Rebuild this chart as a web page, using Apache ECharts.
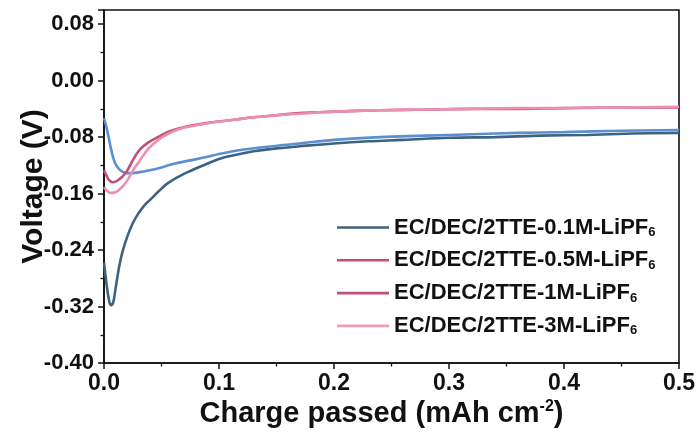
<!DOCTYPE html>
<html>
<head>
<meta charset="utf-8">
<script src="https://cdn.jsdelivr.net/npm/echarts@6/dist/echarts.min.js"></script>
<style>
  html, body { margin: 0; padding: 0; background: #ffffff; }
  #chart { width: 700px; height: 436px; }
</style>
</head>
<body>
<div id="chart"></div>
<script>
// Series names (the "6" subscript is added by the legend formatter)
const seriesNames = [
  'EC/DEC/2TTE-0.1M-LiPF6',
  'EC/DEC/2TTE-0.5M-LiPF6',
  'EC/DEC/2TTE-1M-LiPF6',
  'EC/DEC/2TTE-3M-LiPF6'
];

// 0.1M
const x01 = [0, 0.002, 0.004, 0.006, 0.008, 0.010, 0.013, 0.016, 0.020, 0.025, 0.030, 0.035, 0.040, 0.048, 0.055, 0.065, 0.075, 0.085, 0.10, 0.115, 0.13, 0.15, 0.17, 0.20, 0.23, 0.26, 0.30, 0.34, 0.38, 0.42, 0.46, 0.50];
const v01 = [-0.258, -0.285, -0.308, -0.318, -0.314, -0.295, -0.265, -0.243, -0.222, -0.202, -0.188, -0.177, -0.169, -0.156, -0.146, -0.136, -0.128, -0.121, -0.111, -0.105, -0.100, -0.096, -0.093, -0.089, -0.086, -0.084, -0.081, -0.080, -0.078, -0.077, -0.075, -0.074];

// 0.5M
const x05 = [0, 0.002, 0.004, 0.006, 0.008, 0.010, 0.013, 0.016, 0.020, 0.025, 0.030, 0.040, 0.050, 0.060, 0.075, 0.090, 0.10, 0.12, 0.14, 0.17, 0.20, 0.24, 0.28, 0.32, 0.36, 0.40, 0.45, 0.50];
const v05 = [-0.053, -0.065, -0.080, -0.096, -0.109, -0.118, -0.125, -0.129, -0.131, -0.131, -0.130, -0.127, -0.123, -0.118, -0.113, -0.108, -0.104, -0.098, -0.094, -0.089, -0.084, -0.080, -0.078, -0.076, -0.074, -0.073, -0.071, -0.070];

// 1M
const x1 = [0, 0.002, 0.004, 0.006, 0.008, 0.010, 0.013, 0.016, 0.020, 0.025, 0.030, 0.035, 0.040, 0.048, 0.055, 0.065, 0.075, 0.085, 0.10, 0.115, 0.13, 0.15, 0.17, 0.20, 0.24, 0.28, 0.32, 0.36, 0.40, 0.45, 0.50];
const v1 = [-0.127, -0.134, -0.140, -0.143, -0.144, -0.143, -0.140, -0.136, -0.128, -0.113, -0.100, -0.092, -0.086, -0.079, -0.073, -0.068, -0.064, -0.061, -0.058, -0.055, -0.052, -0.049, -0.046, -0.044, -0.042, -0.041, -0.040, -0.040, -0.039, -0.038, -0.038];

// 3M
const x3 = [0, 0.002, 0.004, 0.006, 0.008, 0.010, 0.013, 0.016, 0.020, 0.025, 0.030, 0.035, 0.040, 0.048, 0.055, 0.065, 0.075, 0.085, 0.10, 0.115, 0.13, 0.15, 0.17, 0.20, 0.24, 0.28, 0.32, 0.36, 0.40, 0.45, 0.50];
const v3 = [-0.151, -0.155, -0.158, -0.159, -0.159, -0.158, -0.155, -0.150, -0.142, -0.128, -0.116, -0.104, -0.094, -0.083, -0.076, -0.069, -0.065, -0.062, -0.058, -0.055, -0.052, -0.049, -0.047, -0.044, -0.042, -0.041, -0.040, -0.039, -0.039, -0.038, -0.037];

// Axis ranges and tick steps
const xRange = [0, 0.5];
const xStep = 0.1;
const yRange = [-0.40, 0.10];
const yStep = 0.08;

const lineColors = ['#3d6383', '#5b8fd2', '#c24f7b', '#ec8fb0'];
const legendColors = ['#3d6383', '#c24f7b', '#c24f7b', '#eb9bba'];

const xs = [x01, x05, x1, x3];
const vs = [v01, v05, v1, v3];

const FONT = '"Liberation Sans", Arial, sans-serif';

const chart = echarts.init(document.getElementById('chart'), null, { renderer: 'canvas' });

const series = seriesNames.map((name, i) => ({
  name: name,
  type: 'line',
  data: xs[i].map((x, k) => [x, vs[i][k]]),
  showSymbol: false,
  symbol: 'none',
  smooth: 0.4,
  lineStyle: { color: lineColors[i], width: 2.6 },
  itemStyle: { color: lineColors[i] },
  z: 3 + i
}));

chart.setOption({
  animation: false,
  backgroundColor: '#ffffff',
  grid: {
    left: 104, right: 21, top: 10, bottom: 73,
    outerBoundsMode: 'none',
    containLabel: false,
    show: true, borderColor: '#111', borderWidth: 1.6, backgroundColor: 'transparent'
  },
  legend: {
    orient: 'vertical',
    left: 337, top: 216,
    padding: 0,
    icon: 'rect',
    itemWidth: 52, itemHeight: 2.6, itemGap: 9.8,
    data: seriesNames.map((n, i) => ({
      name: n,
      itemStyle: { color: legendColors[i] }
    })),
    formatter: n => '{a|' + n.slice(0, -1) + '}{s|' + n.slice(-1) + '}',
    textStyle: {
      fontFamily: FONT,
      fontSize: 22,
      fontWeight: 'bold',
      color: '#111',
      rich: {
        a: { fontFamily: FONT, fontSize: 22, fontWeight: 'bold', color: '#111', lineHeight: 23 },
        s: { fontFamily: FONT, fontSize: 13, fontWeight: 'bold', color: '#111', lineHeight: 23, verticalAlign: 'bottom', padding: [10, 0, 0, 0] }
      }
    }
  },
  xAxis: {
    type: 'value',
    min: xRange[0], max: xRange[1], interval: xStep,
    name: 'Charge passed (mAh cm{sup|-2})',
    nameLocation: 'middle',
    nameGap: 36,
    nameMoveOverlap: false,
    nameTextStyle: {
      fontFamily: FONT, fontSize: 29, fontWeight: 'bold', color: '#111',
      padding: [0, 20, 0, 0],
      rich: {
        sup: { fontFamily: FONT, fontSize: 16, fontWeight: 'bold', color: '#111', verticalAlign: 'top', padding: [0, 0, 12, 0] }
      }
    },
    axisLine: { onZero: false, lineStyle: { color: '#111', width: 1.6 } },
    axisTick: { show: true, inside: false, length: 6, lineStyle: { color: '#111', width: 1.5 } },
    minorTick: { show: true, splitNumber: 2, length: 3.5, lineStyle: { color: '#111', width: 1.3 } },
    splitLine: { show: false },
    axisLabel: {
      fontFamily: FONT, fontSize: 23, fontWeight: 'bold', color: '#111', margin: 9,
      formatter: v => v.toFixed(1)
    }
  },
  yAxis: {
    type: 'value',
    min: yRange[0], max: yRange[1], interval: yStep,
    name: 'Voltage (V)',
    nameLocation: 'middle',
    nameGap: 55,
    nameMoveOverlap: false,
    nameTextStyle: { fontFamily: FONT, fontSize: 30, fontWeight: 'bold', color: '#111' },
    axisLine: { onZero: false, lineStyle: { color: '#111', width: 1.6 } },
    axisTick: { show: true, inside: false, length: 6, lineStyle: { color: '#111', width: 1.5 } },
    minorTick: { show: true, splitNumber: 2, length: 3.5, lineStyle: { color: '#111', width: 1.3 } },
    splitLine: { show: false },
    axisLabel: {
      fontFamily: FONT, fontSize: 22, fontWeight: 'bold', color: '#111', margin: 10,
      showMaxLabel: false,
      formatter: v => v.toFixed(2)
    }
  },
  series: series
});
</script>
</body>
</html>
